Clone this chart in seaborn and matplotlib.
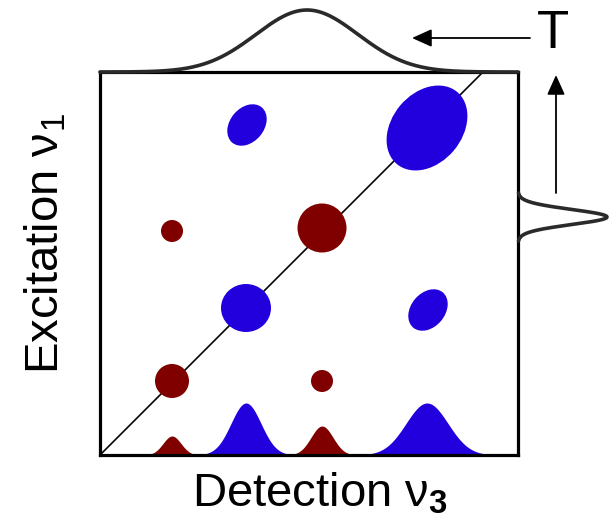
import numpy as np
import matplotlib
matplotlib.use("Agg")
import matplotlib.pyplot as plt
from matplotlib.patches import Ellipse
import seaborn as sns

sns.set_theme(style="white")
plt.rcParams['font.family'] = ['Liberation Sans', 'DejaVu Sans']
plt.rcParams['mathtext.fontset'] = 'custom'
plt.rcParams['mathtext.rm'] = 'Liberation Sans'
plt.rcParams['mathtext.bf'] = 'Liberation Sans:bold'
plt.rcParams['mathtext.it'] = 'Liberation Sans:italic'

BLUE = "#2200dd"
RED = "#800000"

# 2D spectrum peaks (detection nu3, excitation nu1), sizes, angle, colour
peak_x = [147, 327, 146, 328, 72, 222, 72, 222]
peak_y = [330, 327, 147, 145, 224, 227, 74, 74]
peak_w = [46, 94, 50, 46, 22, 49, 34, 22]
peak_h = [34, 70, 48, 34, 22, 49, 34, 22]
peak_angle = [50, 50, 0, 50, 0, 0, 0, 0]
peak_color = [BLUE, BLUE, BLUE, BLUE, RED, RED, RED, RED]

# linear (detection axis) spectrum bands
band_center = [72, 146, 222, 327]
band_amp = [19, 52, 29, 52]
band_sigma = [9, 15, 11, 21]
band_color = [RED, BLUE, RED, BLUE]

# pump pulse spectrum (top) and probe pulse (right)
pump_center, pump_amp, pump_sigma = 207, 62, 51
probe_center, probe_amp, probe_sigma = 238, 89, 7.5

XMAX, YMAX = 418, 383

fig = plt.figure(figsize=(6.10, 5.18), dpi=100)
ax = fig.add_axes([100/610, 63/518, 418/610, 383/518])
ax.set_xlim(0, XMAX)
ax.set_ylim(0, YMAX)
ax.set_xticks([])
ax.set_yticks([])
for s in ax.spines.values():
    s.set_color("black")
    s.set_linewidth(2.3)
    s.set_zorder(6)

# diagonal
ax.plot([0, YMAX], [0, YMAX], color="black", lw=1.2, zorder=1, clip_on=False)

# 2D peaks
for x, y, w, h, a, c in zip(peak_x, peak_y, peak_w, peak_h, peak_angle, peak_color):
    ax.add_patch(Ellipse((x, y), w, h, angle=a, facecolor=c, edgecolor="none", zorder=3))

# bottom bands
xs = np.linspace(0, XMAX, 800)
for c0, a0, s0, col in zip(band_center, band_amp, band_sigma, band_color):
    yv = a0 * np.exp(-0.5 * ((xs - c0) / s0) ** 2)
    ax.fill_between(xs, 0, yv, where=yv > 0.3, color=col, lw=0, zorder=2)

# top pump spectrum
pump = YMAX + pump_amp * np.exp(-0.5 * ((xs - pump_center) / pump_sigma) ** 2)
sns.lineplot(x=xs, y=pump, ax=ax, color="#2a2a2a", lw=2.6, clip_on=False, zorder=7)

# right probe spectrum
ys = np.linspace(probe_center - 24, probe_center + 24, 300)
probe = XMAX + probe_amp * np.exp(-0.5 * ((ys - probe_center) / probe_sigma) ** 2)
sns.lineplot(x=probe, y=ys, ax=ax, sort=False, estimator=None, orient="y",
             color="#2a2a2a", lw=2.6, clip_on=False, zorder=7)

# arrows
ax.annotate("", xy=(312, 417), xytext=(430, 417), annotation_clip=False,
            arrowprops=dict(arrowstyle="-|>,head_length=1.0,head_width=0.45",
                            color="black", lw=1.3, shrinkA=0, shrinkB=0))
ax.annotate("", xy=(456, 380), xytext=(456, 262), annotation_clip=False,
            arrowprops=dict(arrowstyle="-|>,head_length=1.0,head_width=0.45",
                            color="black", lw=1.3, shrinkA=0, shrinkB=0))
ax.text(453, 421, "T", fontsize=38, ha="center", va="center", color="black")

# axis labels
fig.text(320/610, 1 - 506/518, r"Detection $\mathrm{ν}_{\mathbf{3}}$", fontsize=34,
         ha="center", va="baseline", color="black")
fig.text(58/610, 1 - 244/518, r"Excitation $\mathrm{ν}_{\mathrm{1}}$", fontsize=34,
         ha="center", va="baseline", rotation=90, rotation_mode="anchor", color="black")

fig.savefig("out.png", dpi=100, facecolor="white")
